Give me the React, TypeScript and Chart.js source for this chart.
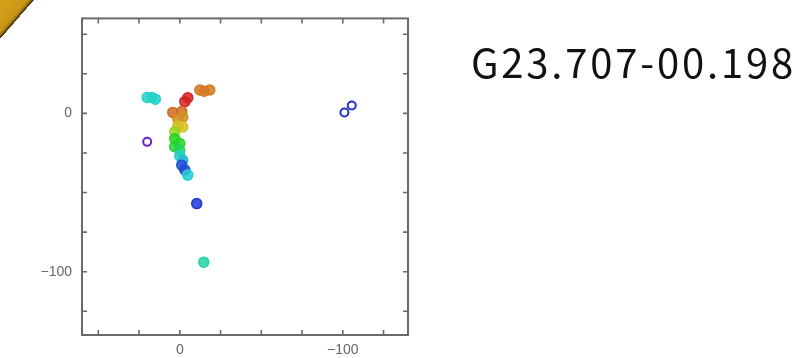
import { useEffect, useRef } from "react";
import { Chart, registerables } from "chart.js";

Chart.register(...registerables);

const sourceName = "G23.707-00.198";

// Filled maser spots: RA offset (mas), Dec offset (mas), LSR velocity (km/s)
const spotRA = [
  17, 20, 15, -12.3, -18.4, -15,
  -10.4, -14.7,
  -4.9, -3.1, 4.3, -1.2, 1.2, -1.8, 1.2, -1.8, 3.1, 3.1, 0, 3.1, 0, 0, -1.8, -1.2, -3.1, -4.9,
];
const spotDec = [
  10, 10, 9, 14.8, 14.8, 14,
  -57, -94,
  9.9, 7.4, 0.6, 1.2, -3.7, -2.5, -8, -8.6, -11.7, -16, -19, -21, -23.5, -27, -29.6, -32.7, -35.8, -39,
];
const spotVel = [
  75.5, 75.5, 75.5, 84.2, 84.2, 84.2,
  72.2, 76.2,
  86, 86, 84.6, 84.6, 83.8, 83.8, 82.8, 82.8, 81.2, 79, 79, 78.6, 77.6, 75.6, 74.8, 72.8, 72.6, 75.2,
];

// Ring-shaped (hollow) spots
const ringRA = [20, -101, -105.5];
const ringDec = [-18, 0.6, 5];
const ringVel = [70.3, 72, 72];

// Axis range and ticks (mas)
const axisMin = -140;
const axisMax = 60;
const tickValues = [-125, -100, -75, -50, -25, 0, 25, 50];
const xTickLabels = [0, -100];
const yTickLabels = [0, -100];

const velMin = 70;
const velMax = 86;

function velColor(v: number, alpha = 1): string {
  const f = Math.min(1, Math.max(0, (velMax - v) / (velMax - velMin)));
  const hue = f * 270;
  return `hsla(${hue.toFixed(0)}, 72%, 48%, ${alpha})`;
}

function fmt(v: number): string {
  return v < 0 ? "\u2212" + String(Math.abs(v)) : String(v);
}

const framePlugin = {
  id: "frameTicks",
  afterDraw(chart: any) {
    const { ctx, chartArea, scales } = chart;
    const { left, right, top, bottom } = chartArea;
    ctx.save();
    ctx.strokeStyle = "#6a6a6a";
    ctx.lineWidth = 1.6;
    const len = 5;
    const xs = scales.x;
    const ys = scales.y;
    ctx.beginPath();
    for (const v of tickValues) {
      const px = xs.getPixelForValue(v);
      ctx.moveTo(px, bottom);
      ctx.lineTo(px, bottom - len);
      ctx.moveTo(px, top);
      ctx.lineTo(px, top + len);
      const py = ys.getPixelForValue(v);
      ctx.moveTo(left, py);
      ctx.lineTo(left + len, py);
      ctx.moveTo(right, py);
      ctx.lineTo(right - len, py);
    }
    ctx.stroke();
    ctx.lineWidth = 2;
    ctx.strokeRect(left, top, right - left, bottom - top);
    ctx.restore();
  },
};

const setTicks = (s: any) => {
  s.ticks = tickValues.map((value) => ({ value }));
};

export default function App() {
  const ref = useRef<HTMLCanvasElement | null>(null);

  useEffect(() => {
    if (!ref.current) return;
    const filled = spotRA.map((x, i) => ({ x, y: spotDec[i] }));
    const rings = ringRA.map((x, i) => ({ x, y: ringDec[i] }));
    const tickFont = { family: "Liberation Sans, Arial, sans-serif", size: 14 };
    const chart = new Chart(ref.current, {
      type: "scatter",
      data: {
        datasets: [
          {
            data: filled,
            pointRadius: 5,
            pointBorderWidth: 1.5,
            pointBackgroundColor: spotVel.map((v) => velColor(v, 0.85)),
            pointBorderColor: spotVel.map((v) => velColor(v, 1)),
          },
          {
            data: rings,
            pointRadius: 4,
            pointBorderWidth: 2,
            pointBackgroundColor: "rgba(255,255,255,0.6)",
            pointBorderColor: ringVel.map((v) => velColor(v, 1)),
          },
        ],
      },
      options: {
        animation: false,
        responsive: true,
        maintainAspectRatio: false,
        layout: { padding: { top: 10, right: 399, left: 0, bottom: 0 } },
        plugins: { legend: { display: false }, tooltip: { enabled: false } },
        scales: {
          x: {
            type: "linear",
            reverse: true,
            min: axisMin,
            max: axisMax,
            border: { display: false },
            grid: { display: false, drawTicks: false },
            afterBuildTicks: setTicks,
            afterFit: (s: any) => {
              s.height = 23;
            },
            ticks: {
              autoSkip: false,
              maxRotation: 0,
              padding: 7,
              color: "#666",
              font: tickFont,
              callback: (v: any) => (xTickLabels.includes(Number(v)) ? fmt(Number(v)) : ""),
            },
          },
          y: {
            type: "linear",
            min: axisMin,
            max: axisMax,
            border: { display: false },
            grid: { display: false, drawTicks: false },
            afterBuildTicks: setTicks,
            afterFit: (s: any) => {
              s.width = 82;
            },
            ticks: {
              autoSkip: false,
              padding: 10,
              color: "#666",
              font: tickFont,
              callback: (v: any) => (yTickLabels.includes(Number(v)) ? fmt(Number(v)) : ""),
            },
          },
        },
      },
      plugins: [framePlugin],
    });
    return () => chart.destroy();
  }, []);

  return (
    <div style={{ position: "fixed", left: 0, top: 0, width: 807, height: 358, background: "#fff", overflow: "hidden" }}>
      <div
        style={{
          position: "absolute",
          left: 0,
          top: 0,
          width: 34,
          height: 39,
          clipPath: "polygon(0 0, 100% 0, 0 100%)",
          background:
            "linear-gradient(to bottom right, #d6a41a 0%, #c99716 40%, #a47a10 45%, #4a3406 48.5%, #241803 50%, transparent 50%)",
        }}
      />
      <div style={{ position: "absolute", left: 0, top: 0, width: 807, height: 358 }}>
        <canvas ref={ref} />
      </div>
      <div
        style={{
          position: "absolute",
          left: 471,
          top: 41,
          fontFamily: "'Noto Sans CJK JP', 'Noto Sans', sans-serif",
          fontSize: 40,
          lineHeight: "40px",
          letterSpacing: "2.8px",
          color: "#111",
          whiteSpace: "nowrap",
        }}
      >
        {sourceName}
      </div>
    </div>
  );
}
